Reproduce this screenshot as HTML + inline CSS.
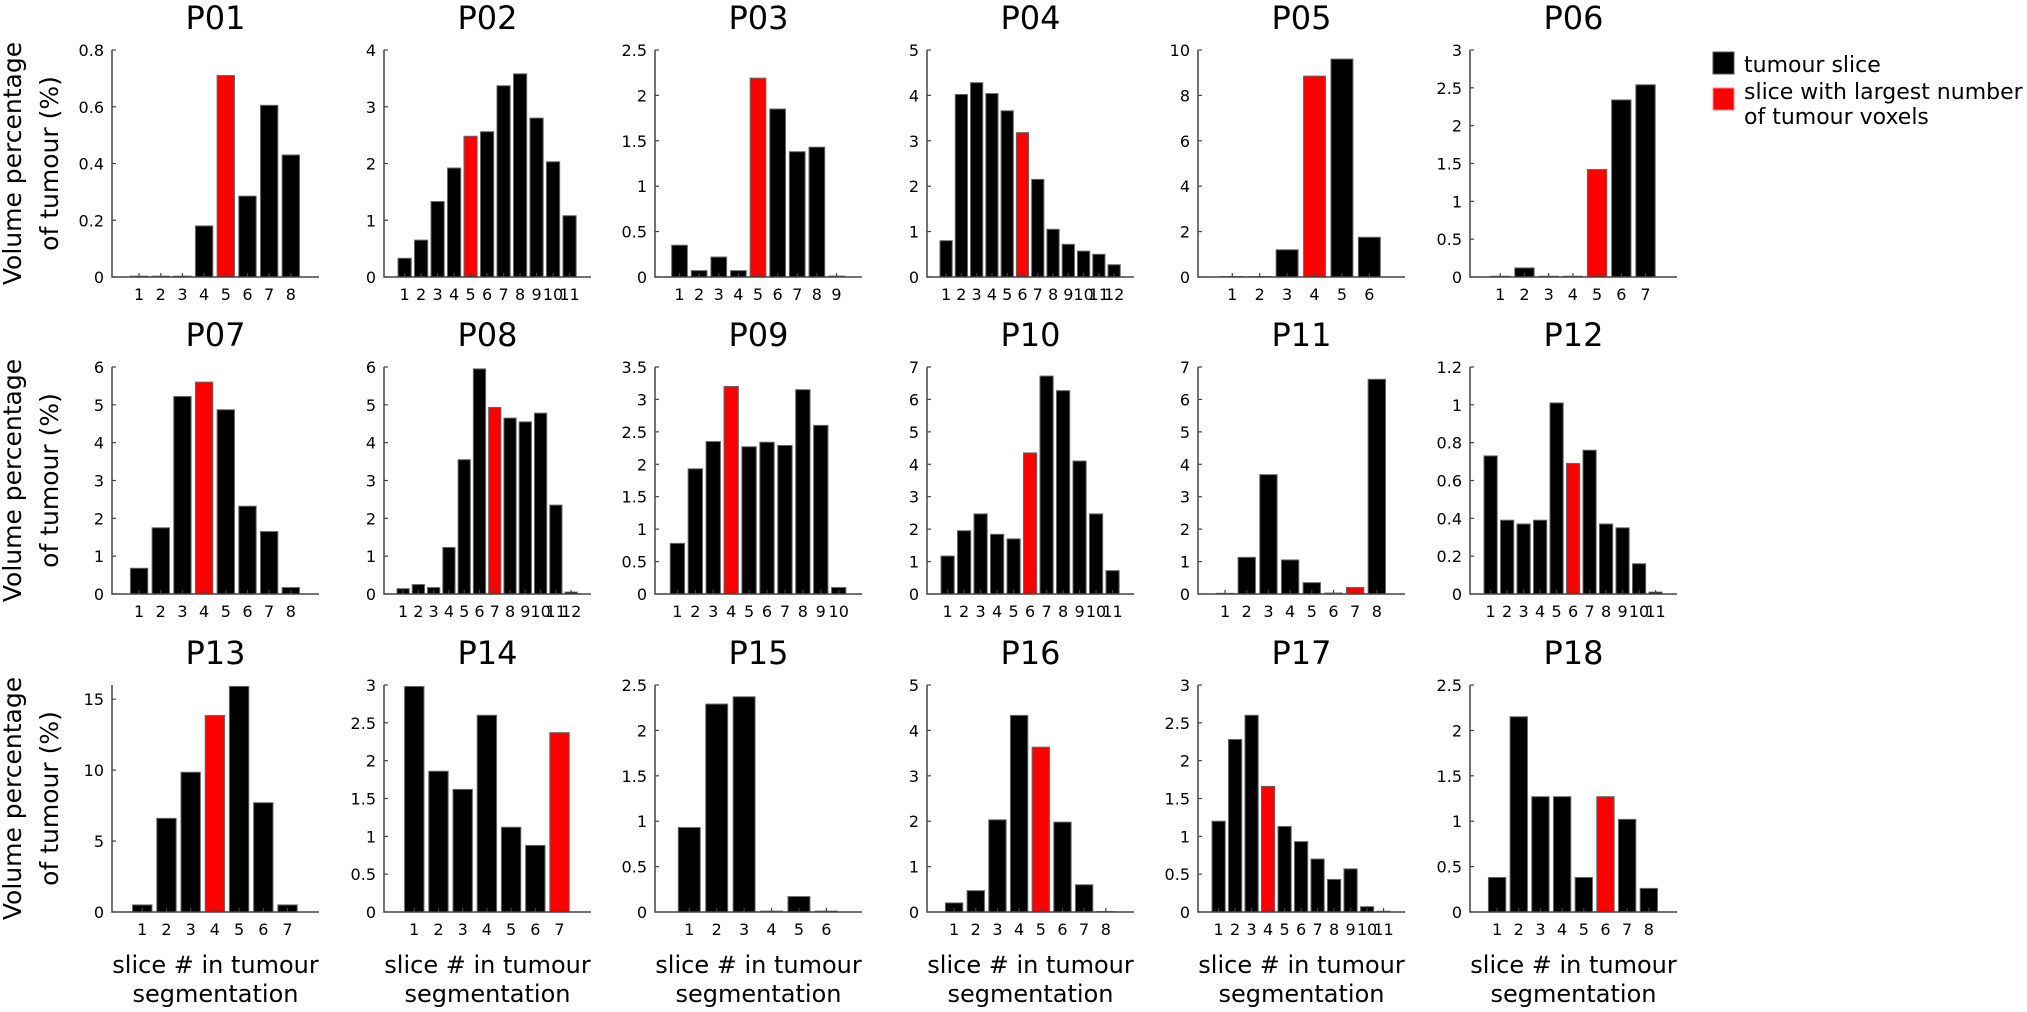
<!DOCTYPE html>
<html><head><meta charset="utf-8"><style>
html,body{margin:0;padding:0;background:#fff;}
svg{display:block;font-family:"DejaVu Sans","Liberation Sans",sans-serif;}
</style></head><body>
<svg id="chart" width="2027" height="1012" viewBox="0 0 2027 1012" xmlns="http://www.w3.org/2000/svg">
<g>
<rect x="1713" y="52" width="21" height="22" fill="#000" stroke="#555"/>
<text x="1744" y="72" font-size="22">tumour slice</text>
<rect x="1713" y="88" width="21" height="22" fill="#f00" stroke="#f88"/>
<text x="1744" y="99" font-size="22">slice with largest number</text>
<text x="1744" y="124" font-size="22">of tumour voxels</text>
</g>
</svg>
<script>
const titles = ["P01","P02","P03","P04","P05","P06","P07","P08","P09","P10","P11","P12","P13","P14","P15","P16","P17","P18"];
const yMax = [0.8,4,2.5,5,10,3,6,6,3.5,7,7,1.2,16,3,2.5,5,3,2.5];
const yTicks = [
 [0,0.2,0.4,0.6,0.8],[0,1,2,3,4],[0,0.5,1,1.5,2,2.5],[0,1,2,3,4,5],[0,2,4,6,8,10],[0,0.5,1,1.5,2,2.5,3],
 [0,1,2,3,4,5,6],[0,1,2,3,4,5,6],[0,0.5,1,1.5,2,2.5,3,3.5],[0,1,2,3,4,5,6,7],[0,1,2,3,4,5,6,7],[0,0.2,0.4,0.6,0.8,1,1.2],
 [0,5,10,15],[0,0.5,1,1.5,2,2.5,3],[0,0.5,1,1.5,2,2.5],[0,1,2,3,4,5],[0,0.5,1,1.5,2,2.5,3],[0,0.5,1,1.5,2,2.5]];
const values = [
 [0.003,0.003,0.003,0.18,0.71,0.285,0.605,0.43],
 [0.33,0.65,1.33,1.92,2.48,2.56,3.37,3.58,2.8,2.03,1.08],
 [0.35,0.07,0.22,0.07,2.19,1.85,1.38,1.43,0.01],
 [0.8,4.02,4.28,4.04,3.66,3.18,2.15,1.05,0.72,0.57,0.5,0.27],
 [0.02,0.02,1.2,8.85,9.6,1.75],
 [0.01,0.12,0.01,0.01,1.42,2.34,2.54],
 [0.68,1.75,5.22,5.6,4.87,2.32,1.65,0.17],
 [0.14,0.25,0.17,1.23,3.55,5.95,4.93,4.65,4.55,4.78,2.35,0.05],
 [0.78,1.93,2.35,3.2,2.27,2.34,2.29,3.15,2.6,0.1],
 [1.17,1.95,2.47,1.84,1.7,4.35,6.72,6.27,4.1,2.47,0.72],
 [0.02,1.13,3.68,1.05,0.35,0.03,0.2,6.62],
 [0.73,0.39,0.37,0.39,1.01,0.69,0.76,0.37,0.35,0.16,0.01],
 [0.5,6.6,9.85,13.85,15.9,7.7,0.5],
 [2.98,1.86,1.62,2.6,1.12,0.88,2.37],
 [0.93,2.29,2.37,0.01,0.17,0.01],
 [0.2,0.47,2.03,4.33,3.63,1.98,0.6,0.01],
 [1.2,2.28,2.6,1.66,1.13,0.93,0.7,0.43,0.57,0.07,0.01],
 [0.38,2.15,1.27,1.27,0.38,1.27,1.02,0.26]];
const redIndex = [5,5,5,6,4,5,4,7,4,6,7,6,4,7,0,5,4,6];

const NS = "http://www.w3.org/2000/svg";
const svg = document.getElementById("chart");
const colLeft = [112,384,655,927,1198,1470];
const rowTop = [50,367,685];
const W = 207, H = 227;
function mk(tag, attrs, parent){const e=document.createElementNS(NS,tag);for(const k in attrs)e.setAttribute(k,attrs[k]);parent.appendChild(e);return e;}

for(let p=0;p<18;p++){
  const col=p%6,row=Math.floor(p/6);
  const L=colLeft[col],T=rowTop[row],B=T+H,R=L+W;
  const vals=values[p],n=vals.length;
  const x0=-0.25,x1=n+1.3;
  const xs=v=>L+(v-x0)/(x1-x0)*W;
  const ys=v=>B-v/yMax[p]*H;
  const sp=W/(x1-x0);
  const g=mk("g",{},svg);
  
  
  const t=mk("text",{x:(L+R)/2,y:T-21,"font-size":32,"text-anchor":"middle"},g);
  
  
  t.textContent=titles[p];
  for(let i=0;i<n;i++){
    const isRed=(i+1)===redIndex[p];
    const r=mk("rect",{x:xs(i+1)-0.4*sp,y:ys(vals[i]),width:0.8*sp,height:Math.max(0,B-ys(vals[i])),fill:isRed?"#f00":"#000",stroke:"#666","stroke-width":1},g);
    
    
  }
  const ax=mk("path",{d:`M${L},${T}V${B}H${R}`,fill:"none",stroke:"#444","stroke-width":1.5},g);
  
  
  yTicks[p].forEach(v=>{
    const y=ys(v);
    mk("line",{x1:L,x2:L+4,y1:y,y2:y,stroke:"#444","stroke-width":1.2},g);
    const tl=mk("text",{x:L-8,y:y+6,"font-size":16,"text-anchor":"end"},g);
    
    
    tl.textContent=String(v);
  });
  for(let i=1;i<=n;i++){
    const x=xs(i);
    mk("line",{x1:x,x2:x,y1:B,y2:B-4,stroke:"#444","stroke-width":1.2},g);
    const tl=mk("text",{x:x,y:B+23,"font-size":16,"text-anchor":"middle"},g);
    
    
    tl.textContent=String(i);
  }
  if(col===0){
    const cy=(T+B)/2;
    const a=mk("text",{x:0,y:0,"font-size":25,"text-anchor":"middle",transform:`translate(21,${cy}) rotate(-90)`},g);
    
    
    a.textContent="Volume percentage";
    const b=mk("text",{x:0,y:0,"font-size":25,"text-anchor":"middle",transform:`translate(58,${cy}) rotate(-90)`},g);
    
    
    b.textContent="of tumour (%)";
  }
  if(row===2){
    const a=mk("text",{x:(L+R)/2,y:973,"font-size":24,"text-anchor":"middle"},g);
    
    
    a.textContent="slice # in tumour";
    const b=mk("text",{x:(L+R)/2,y:1002,"font-size":24,"text-anchor":"middle"},g);
    
    
    b.textContent="segmentation";
  }
}
</script>
</body></html>
